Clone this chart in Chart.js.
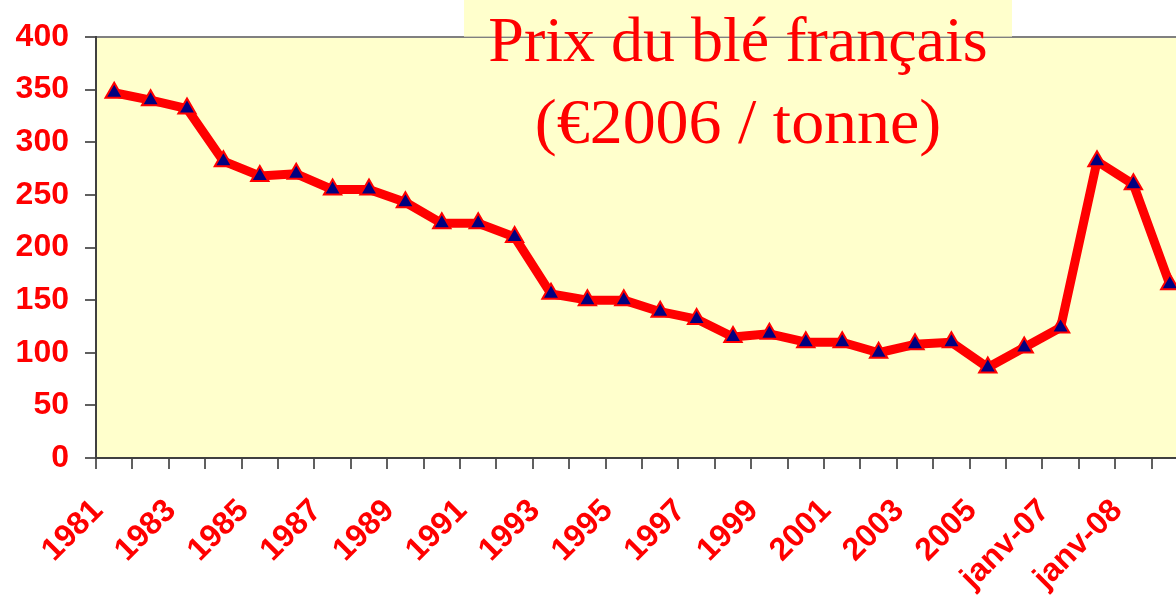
<!DOCTYPE html>
<html><head><meta charset="utf-8">
<script src="https://cdn.jsdelivr.net/npm/chart.js@4.4.1/dist/chart.umd.min.js"></script>
<style>
html,body{margin:0;padding:0;background:#fff;overflow:hidden;width:1176px;height:602px;}
#wrap{position:relative;width:1176px;height:602px;overflow:hidden;}
canvas{display:block;}
</style></head><body>
<div id="wrap"><canvas id="c" width="1200" height="602" style="width:1200px;height:602px"></canvas></div>
<script>
const categories = ['1981','1982','1983','1984','1985','1986','1987','1988','1989','1990',
  '1991','1992','1993','1994','1995','1996','1997','1998','1999','2000',
  '2001','2002','2003','2004','2005','2006','janv-07','juil-07','janv-08','juil-08'];
const prices = [347,340,332,282,268,270,255,255,243,223,
  223,210,156,150,150,139,132,115,118,110,
  110,100,108,110,86,105,124,282,260,165];
const yTicks = [0,50,100,150,200,250,300,350,400];
const titleLines = ['Prix du blé français','(€2006 / tonne)'];

const RED = '#FF0000';
Chart.defaults.font.family = '"Liberation Sans", Arial, sans-serif';

const plotBg = {
  id: 'plotBg',
  beforeDraw(chart) {
    const {ctx, chartArea: a} = chart;
    ctx.save();
    ctx.fillStyle = '#FFFFCC';
    ctx.fillRect(a.left, a.top, a.right - a.left, a.bottom - a.top);
    ctx.strokeStyle = '#808080';
    ctx.lineWidth = 2;
    ctx.beginPath();
    ctx.moveTo(a.left, a.top);
    ctx.lineTo(a.right, a.top);
    ctx.stroke();
    ctx.restore();
  }
};

const titleBox = {
  id: 'titleBox',
  beforeDatasetsDraw(chart) {
    const {ctx} = chart;
    ctx.save();
    ctx.fillStyle = '#FFFFCC';
    ctx.fillRect(464, 0, 548, 36.6);
    ctx.fillStyle = RED;
    ctx.font = '64px "Liberation Serif", "Times New Roman", serif';
    ctx.textAlign = 'center';
    ctx.textBaseline = 'alphabetic';
    ctx.fillText(titleLines[0], 738, 61);
    ctx.save();
    ctx.translate(738, 143);
    ctx.scale(1.03, 1);
    ctx.fillText(titleLines[1], 0, 0);
    ctx.restore();
    ctx.restore();
  }
};

new Chart(document.getElementById('c'), {
  type: 'line',
  data: {
    labels: categories,
    datasets: [{
      data: prices,
      borderColor: RED,
      borderWidth: 9,
      borderJoinStyle: 'round',
      borderCapStyle: 'round',
      tension: 0,
      fill: false,
      pointStyle: 'triangle',
      pointRadius: 10,
      pointBackgroundColor: '#000080',
      pointBorderColor: RED,
      pointBorderWidth: 2
    }]
  },
  options: {
    responsive: false,
    animation: false,
    devicePixelRatio: 1,
    layout: {padding: {top: 37, right: 3, bottom: 0, left: 0}},
    plugins: {legend: {display: false}, tooltip: {enabled: false}, title: {display: false}},
    scales: {
      x: {
        offset: true,
        grid: {display: true, offset: true, drawOnChartArea: false, drawTicks: true, tickLength: 11, color: '#606060', lineWidth: 2},
        border: {display: true, color: '#404040', width: 2},
        ticks: {
          autoSkip: false, maxRotation: 45, minRotation: 45,
          padding: 23, labelOffset: -16,
          color: RED, font: {size: 32, weight: 'bold'},
          callback: (v, i) => (i % 2 === 0 ? categories[i] : '')
        },
        afterFit(scale) { scale.height = 144; scale.paddingLeft = 0; scale.paddingRight = 0; }
      },
      y: {
        min: 0, max: 400,
        afterBuildTicks(scale) { scale.ticks = yTicks.map(v => ({value: v})); },
        grid: {display: true, drawOnChartArea: false, drawTicks: true, tickLength: 11, color: '#606060', lineWidth: 2},
        border: {display: true, color: '#404040', width: 2},
        ticks: {padding: 16, color: RED, font: {size: 32, weight: 'bold'}},
        afterFit(scale) { scale.width = 96; }
      }
    }
  },
  plugins: [plotBg, titleBox]
});
</script>
</body></html>
